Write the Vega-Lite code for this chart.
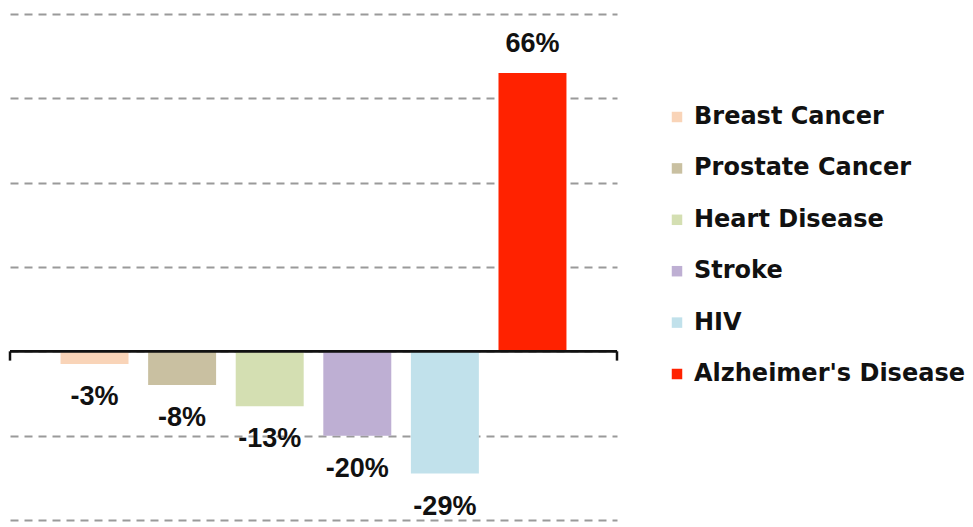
{
  "$schema": "https://vega.github.io/schema/vega-lite/v6.json",
  "width": 607,
  "height": 506,
  "autosize": {"type": "none"},
  "padding": {"left": 10, "top": 14, "right": 356, "bottom": 7},
  "background": "white",
  "config": {"view": {"stroke": null}},
  "datasets": {
    "main": [
      {"disease": "Breast Cancer", "change": -3, "label": "-3%"},
      {"disease": "Prostate Cancer", "change": -8, "label": "-8%"},
      {"disease": "Heart Disease", "change": -13, "label": "-13%"},
      {"disease": "Stroke", "change": -20, "label": "-20%"},
      {"disease": "HIV", "change": -29, "label": "-29%"},
      {"disease": "Alzheimer's Disease", "change": 66, "label": "66%"}
    ],
    "ends": [{"e": 0}, {"e": 1}]
  },
  "layer": [
    {
      "data": {"name": "main"},
      "encoding": {
        "x": {
          "field": "disease", "type": "nominal",
          "sort": ["Breast Cancer", "Prostate Cancer", "Heart Disease", "Stroke", "HIV", "Alzheimer's Disease"],
          "scale": {"paddingInner": 0.224, "paddingOuter": 0.577},
          "axis": null
        },
        "y": {
          "field": "change", "type": "quantitative",
          "scale": {"domain": [-40, 80], "nice": false, "zero": true},
          "axis": {
            "values": [-40, -20, 0, 20, 40, 60, 80],
            "labels": false, "ticks": false, "domain": false, "title": null,
            "grid": true, "gridColor": "#9a9a9a", "gridWidth": 2, "gridDash": [8, 6]
          }
        }
      },
      "layer": [
        {
          "mark": {"type": "bar"},
          "encoding": {
            "color": {
              "field": "disease", "type": "nominal",
              "sort": ["Breast Cancer", "Prostate Cancer", "Heart Disease", "Stroke", "HIV", "Alzheimer's Disease"],
              "scale": {
                "domain": ["Breast Cancer", "Prostate Cancer", "Heart Disease", "Stroke", "HIV", "Alzheimer's Disease"],
                "range": ["#F9D4B8", "#C9C0A1", "#D4DFB2", "#BEAFD3", "#C1E1EB", "#FF2200"]
              },
              "legend": {
                "title": null,
                "orient": "none",
                "legendX": 655,
                "legendY": 91,
                "symbolType": "square",
                "symbolSize": 110,
                "symbolStrokeWidth": 0,
                "labelFont": "DejaVu Sans",
                "labelFontWeight": "bold",
                "labelFontSize": 24,
                "labelColor": "#111111",
                "labelOffset": 5,
                "labelLimit": 400,
                "rowPadding": 27.4
              }
            }
          }
        },
        {
          "transform": [{"filter": "datum.change < 0"}],
          "mark": {"type": "text", "baseline": "middle", "align": "center", "dy": 33, "font": "Liberation Sans", "fontWeight": "bold", "fontSize": 27, "color": "#111111"},
          "encoding": {"text": {"field": "label"}}
        },
        {
          "transform": [{"filter": "datum.change > 0"}],
          "mark": {"type": "text", "baseline": "middle", "align": "center", "dy": -29, "font": "Liberation Sans", "fontWeight": "bold", "fontSize": 27, "color": "#111111"},
          "encoding": {"text": {"field": "label"}}
        }
      ]
    },
    {
      "data": {"name": "ends"},
      "layer": [
        {
          "mark": {"type": "rule", "color": "#111111", "strokeWidth": 2.5},
          "encoding": {
            "x": {"datum": 0, "type": "quantitative", "scale": {"domain": [0, 1]}, "axis": null},
            "x2": {"datum": 1},
            "y": {"datum": 0, "type": "quantitative"}
          }
        },
        {
          "mark": {"type": "rule", "color": "#111111", "strokeWidth": 2.5},
          "encoding": {
            "x": {"field": "e", "type": "quantitative", "scale": {"domain": [0, 1]}, "axis": null},
            "y": {"datum": 0, "type": "quantitative"},
            "y2": {"datum": -2.2}
          }
        }
      ]
    }
  ],
  "resolve": {"scale": {"x": "independent"}}
}
